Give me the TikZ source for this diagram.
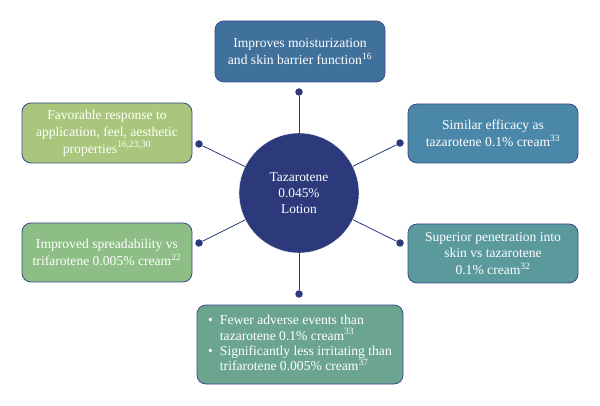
\documentclass[tikz,border=0pt]{standalone}
\usepackage{fontspec}
\setmainfont{Liberation Serif}
\definecolor{navy}{HTML}{2C3A7B}
\definecolor{rim}{HTML}{3B4A8C}
\definecolor{boxtop}{HTML}{40709C}
\definecolor{boxur}{HTML}{4B87A9}
\definecolor{boxlr}{HTML}{5A9A9D}
\definecolor{boxbot}{HTML}{6BA58F}
\definecolor{boxll}{HTML}{8DBE85}
\definecolor{boxul}{HTML}{A8C67C}
\begin{document}
\begin{tikzpicture}[x=1pt, y=-1pt,
	box/.style={rectangle, rounded corners=9pt, draw=rim, line width=0.8pt, text=white, align=center, inner sep=0pt, font=\fontsize{13.6}{16.8}\selectfont},
	dot/.style={circle, fill=navy, inner sep=0pt, minimum size=7.5pt},
	link/.style={draw=navy, line width=0.8pt}]

	\useasboundingbox (0, 0) rectangle (600, 406);

	\node[circle, fill=navy, draw=white, minimum size=120pt, text=white, align=center, font=\fontsize{13.4}{16.2}\selectfont] (hub) at (299, 193) {Tazarotene\\0.045\%\\Lotion};

	\node[box, fill=boxtop, minimum width=170pt, minimum height=61pt] (moist) at (300, 51.5) {Improves moisturization\\and skin barrier function\textsuperscript{16}};
	\node[box, fill=boxul, minimum width=170pt, minimum height=60pt] (feel) at (107, 133) {Favorable response to\\application, feel, aesthetic\\properties\textsuperscript{16,23,30}};
	\node[box, fill=boxur, minimum width=170pt, minimum height=59pt] (efficacy) at (493, 133.5) {Similar efficacy as\\tazarotene 0.1\% cream\textsuperscript{33}};
	\node[box, fill=boxll, minimum width=170pt, minimum height=59pt] (spread) at (107, 252.5) {Improved spreadability vs\\trifarotene 0.005\% cream\textsuperscript{22}};
	\node[box, fill=boxlr, minimum width=170pt, minimum height=59pt] (penetr) at (493, 253.5) {Superior penetration into\\skin vs tazarotene\\0.1\% cream\textsuperscript{32}};
	\node[box, fill=boxbot, minimum width=206pt, minimum height=79pt, align=left] (safety) at (300, 344.5) {\begin{tabular}{@{}l@{\hspace{7pt}}l@{}}
		\textbullet & Fewer adverse events than\\[-1.5pt]
		 & tazarotene 0.1\% cream\textsuperscript{33}\\[-1.5pt]
		\textbullet & Significantly less irritating than\\[-1.5pt]
		 & trifarotene 0.005\% cream\textsuperscript{37}
	\end{tabular}};

	\node[dot] (dmoist) at (299, 92) {};
	\node[dot] (dfeel) at (199, 144) {};
	\node[dot] (defficacy) at (400, 143) {};
	\node[dot] (dspread) at (199, 243) {};
	\node[dot] (dpenetr) at (400, 243) {};
	\node[dot] (dsafety) at (299, 294) {};

	\draw[link] (dmoist) -- (hub);
	\draw[link] (dfeel) -- (hub);
	\draw[link] (defficacy) -- (hub);
	\draw[link] (dspread) -- (hub);
	\draw[link] (dpenetr) -- (hub);
	\draw[link] (dsafety) -- (hub);
\end{tikzpicture}
\end{document}
